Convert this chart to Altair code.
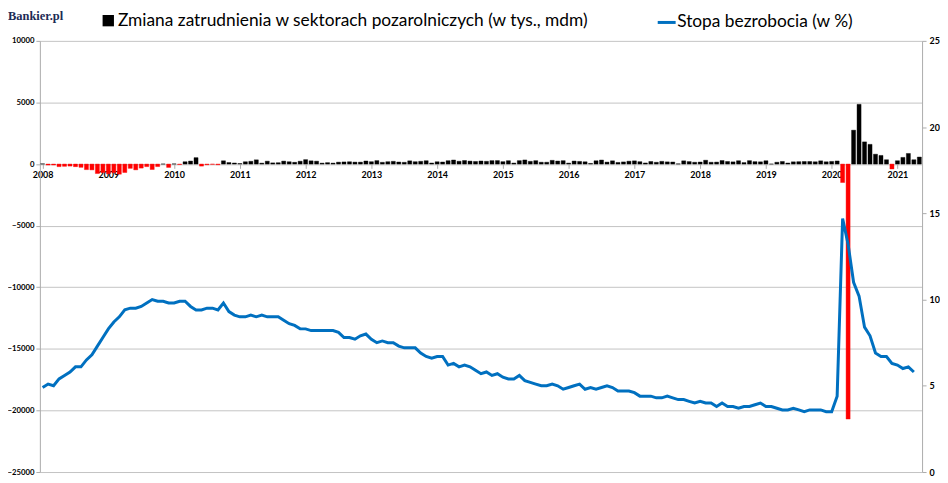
import altair as alt
import pandas as pd

# --- labels ---
etykieta_slupki = "Zmiana zatrudnienia w sektorach pozarolniczych (w tys., mdm)"
etykieta_linii = "Stopa bezrobocia (w %)"
logo = "Bankier.pl"
lata = list(range(2008, 2022))

# --- monthly change in employment (thousands), Jan 2008 .. May 2021 ---
zmiana_2008 = [17, -84, -78, -210, -185, -165, -209, -266, -452, -473, -769, -695]
zmiana_2009 = [-791, -703, -823, -687, -349, -471, -329, -209, -444, -205, 7, -275]
zmiana_2010 = [13, -39, 188, 244, 520, -167, -59, -21, -56, 265, 123, 87]
zmiana_2011 = [42, 188, 225, 343, 75, 233, 96, 110, 239, 188, 139, 230]
zmiana_2012 = [359, 262, 233, 75, 115, 78, 154, 172, 188, 158, 156, 249]
zmiana_2013 = [192, 280, 142, 191, 221, 167, 142, 261, 191, 222, 271, 86]
zmiana_2014 = [187, 168, 273, 329, 228, 288, 240, 211, 250, 223, 278, 283]
zmiana_2015 = [195, 274, 83, 278, 333, 221, 275, 149, 148, 301, 245, 275]
zmiana_2016 = [77, 244, 214, 185, 51, 267, 326, 158, 263, 131, 174, 232]
zmiana_2017 = [260, 193, 89, 208, 145, 219, 178, 167, 17, 262, 200, 147]
zmiana_2018 = [165, 310, 147, 160, 287, 208, 178, 270, 119, 277, 196, 182]
zmiana_2019 = [269, 1, 147, 210, 85, 182, 194, 207, 208, 185, 261, 184]
zmiana_2020 = [214, 251, -1500, -20700, 2750, 4850, 1800, 1600, 800, 700, 350, -400]
zmiana_2021 = [270, 540, 860, 350, 570]

# --- unemployment rate (%) as drawn, 160 points from the first slot ---
stopa_2008 = [4.9, 5.1, 5.0, 5.4, 5.6, 5.8, 6.1, 6.1, 6.5, 6.8, 7.3, 7.8]
stopa_2009 = [8.3, 8.7, 9.0, 9.4, 9.5, 9.5, 9.6, 9.8, 10.0, 9.9, 9.9, 9.8]
stopa_2010 = [9.8, 9.9, 9.9, 9.6, 9.4, 9.4, 9.5, 9.5, 9.4, 9.8, 9.3, 9.1]
stopa_2011 = [9.0, 9.0, 9.1, 9.0, 9.1, 9.0, 9.0, 9.0, 8.8, 8.6, 8.5, 8.3]
stopa_2012 = [8.3, 8.2, 8.2, 8.2, 8.2, 8.2, 8.1, 7.8, 7.8, 7.7, 7.9, 8.0]
stopa_2013 = [7.7, 7.5, 7.6, 7.5, 7.5, 7.3, 7.2, 7.2, 7.2, 6.9, 6.7, 6.6]
stopa_2014 = [6.7, 6.7, 6.2, 6.3, 6.1, 6.2, 6.1, 5.9, 5.7, 5.8, 5.6, 5.7]
stopa_2015 = [5.5, 5.4, 5.4, 5.6, 5.3, 5.2, 5.1, 5.0, 5.0, 5.1, 5.0, 4.8]
stopa_2016 = [4.9, 5.0, 5.1, 4.8, 4.9, 4.8, 4.9, 5.0, 4.9, 4.7, 4.7, 4.7]
stopa_2017 = [4.6, 4.4, 4.4, 4.4, 4.3, 4.3, 4.4, 4.3, 4.2, 4.2, 4.1, 4.0]
stopa_2018 = [4.1, 4.0, 4.0, 3.8, 4.0, 3.8, 3.8, 3.7, 3.8, 3.8, 3.9, 4.0]
stopa_2019 = [3.8, 3.8, 3.7, 3.6, 3.6, 3.7, 3.6, 3.5, 3.6, 3.6, 3.6, 3.5]
stopa_2020 = [3.5, 4.4, 14.7, 13.2, 11.0, 10.2, 8.4, 7.9, 6.9, 6.7, 6.7, 6.3]
stopa_2021 = [6.2, 6.0, 6.1, 5.8]

zmiana = (zmiana_2008 + zmiana_2009 + zmiana_2010 + zmiana_2011 + zmiana_2012 +
          zmiana_2013 + zmiana_2014 + zmiana_2015 + zmiana_2016 + zmiana_2017 +
          zmiana_2018 + zmiana_2019 + zmiana_2020 + zmiana_2021)
stopa = (stopa_2008 + stopa_2009 + stopa_2010 + stopa_2011 + stopa_2012 +
         stopa_2013 + stopa_2014 + stopa_2015 + stopa_2016 + stopa_2017 +
         stopa_2018 + stopa_2019 + stopa_2020 + stopa_2021)

n = len(zmiana)
df_bar = pd.DataFrame({"i": list(range(n)), "v": zmiana})
df_line = pd.DataFrame({"i": list(range(len(stopa))), "u": stopa, "seria": etykieta_linii})
df_logo = pd.DataFrame({"t": [logo]})

W, H = 886, 433
YMIN, YMAX = -25000, 10000
zero_from_bottom = H * (0 - YMIN) / (YMAX - YMIN)

FONT = "Lato"
GRAY = "#ABABAB"

xscale = alt.Scale(domain=[-0.5, n - 0.5], nice=False, zero=False)
xaxis = alt.Axis(
    values=[12 * k for k in range(len(lata))],
    labelExpr="'' + (2008 + datum.value / 12)",
    grid=False, domain=False, ticks=True, tickColor=GRAY, tickSize=4,
    labelPadding=2, offset=-round(zero_from_bottom), title=None,
    labelFont=FONT, labelFontWeight="bold", labelFontSize=9, labelColor="black",
)

yaxis_l = alt.Axis(
    values=list(range(YMIN, YMAX + 1, 5000)), format="d", grid=True,
    gridColor="#C4C4C4", domainColor=GRAY, tickColor=GRAY, tickSize=4,
    labelPadding=2, title=None, labelFont=FONT, labelFontWeight="bold",
    labelFontSize=7.8, labelColor="black",
)
yaxis_r = alt.Axis(
    orient="right", values=[0, 5, 10, 15, 20, 25], grid=False,
    domainColor=GRAY, tickColor=GRAY, tickSize=4, labelPadding=3, title=None,
    labelFont=FONT, labelFontWeight="bold", labelFontSize=9, labelColor="black",
)

bars = alt.Chart(df_bar).transform_calculate(
    lo="datum.i - 0.37",
    hi="datum.i + 0.37",
    seria=f"datum.v < 0 ? 'neg' : '{etykieta_slupki}'",
).mark_bar(strokeWidth=0.4).encode(
    x=alt.X("lo:Q", scale=xscale, axis=xaxis),
    x2="hi:Q",
    y=alt.Y("v:Q", scale=alt.Scale(domain=[YMIN, YMAX], nice=False, zero=False), axis=yaxis_l),
    y2=alt.datum(0),
    color=alt.Color(
        "seria:N",
        scale=alt.Scale(domain=[etykieta_slupki, "neg"], range=["#000000", "#FF0000"]),
        legend=alt.Legend(
            values=[etykieta_slupki], orient="none", legendX=60, legendY=-29,
            title=None, padding=0, symbolType="square", symbolSize=130,
            symbolStrokeWidth=0, labelOffset=1, labelFont=FONT, labelFontSize=17.4,
            labelColor="black", labelLimit=0,
        ),
    ),
    stroke=alt.Color(
        "seria:N",
        scale=alt.Scale(domain=[etykieta_slupki, "neg"], range=["#000000", "#FF0000"]),
        legend=None,
    ),
)

line = alt.Chart(df_line).mark_line(strokeWidth=3).encode(
    x=alt.X("i:Q", scale=xscale, axis=xaxis),
    y=alt.Y("u:Q", scale=alt.Scale(domain=[0, 25], nice=False, zero=False), axis=yaxis_r),
    stroke=alt.Stroke(
        "seria:N",
        scale=alt.Scale(domain=[etykieta_linii], range=["#0070C0"]),
        legend=alt.Legend(
            orient="none", legendX=619, legendY=-29, title=None, padding=0,
            symbolType="stroke", symbolSize=324, symbolStrokeWidth=3,
            labelOffset=0, labelFont=FONT, labelFontSize=17.4, labelColor="black",
            labelLimit=0,
        ),
    ),
)

logo_layer = alt.Chart(df_logo).mark_text(
    align="left", baseline="alphabetic", font="Liberation Serif",
    fontSize=12.5, fontWeight="bold", color="#1C2B55",
).encode(x=alt.value(-32), y=alt.value(-21), text="t:N")

chart = alt.layer(bars, line, logo_layer).resolve_scale(
    y="independent", stroke="independent"
).properties(
    width=W, height=H, autosize="none",
    padding={"left": 32, "top": 32, "right": 18, "bottom": 6},
).configure_view(stroke=None)

chart.save("out.html", embed_options={"renderer": "svg", "actions": False})
